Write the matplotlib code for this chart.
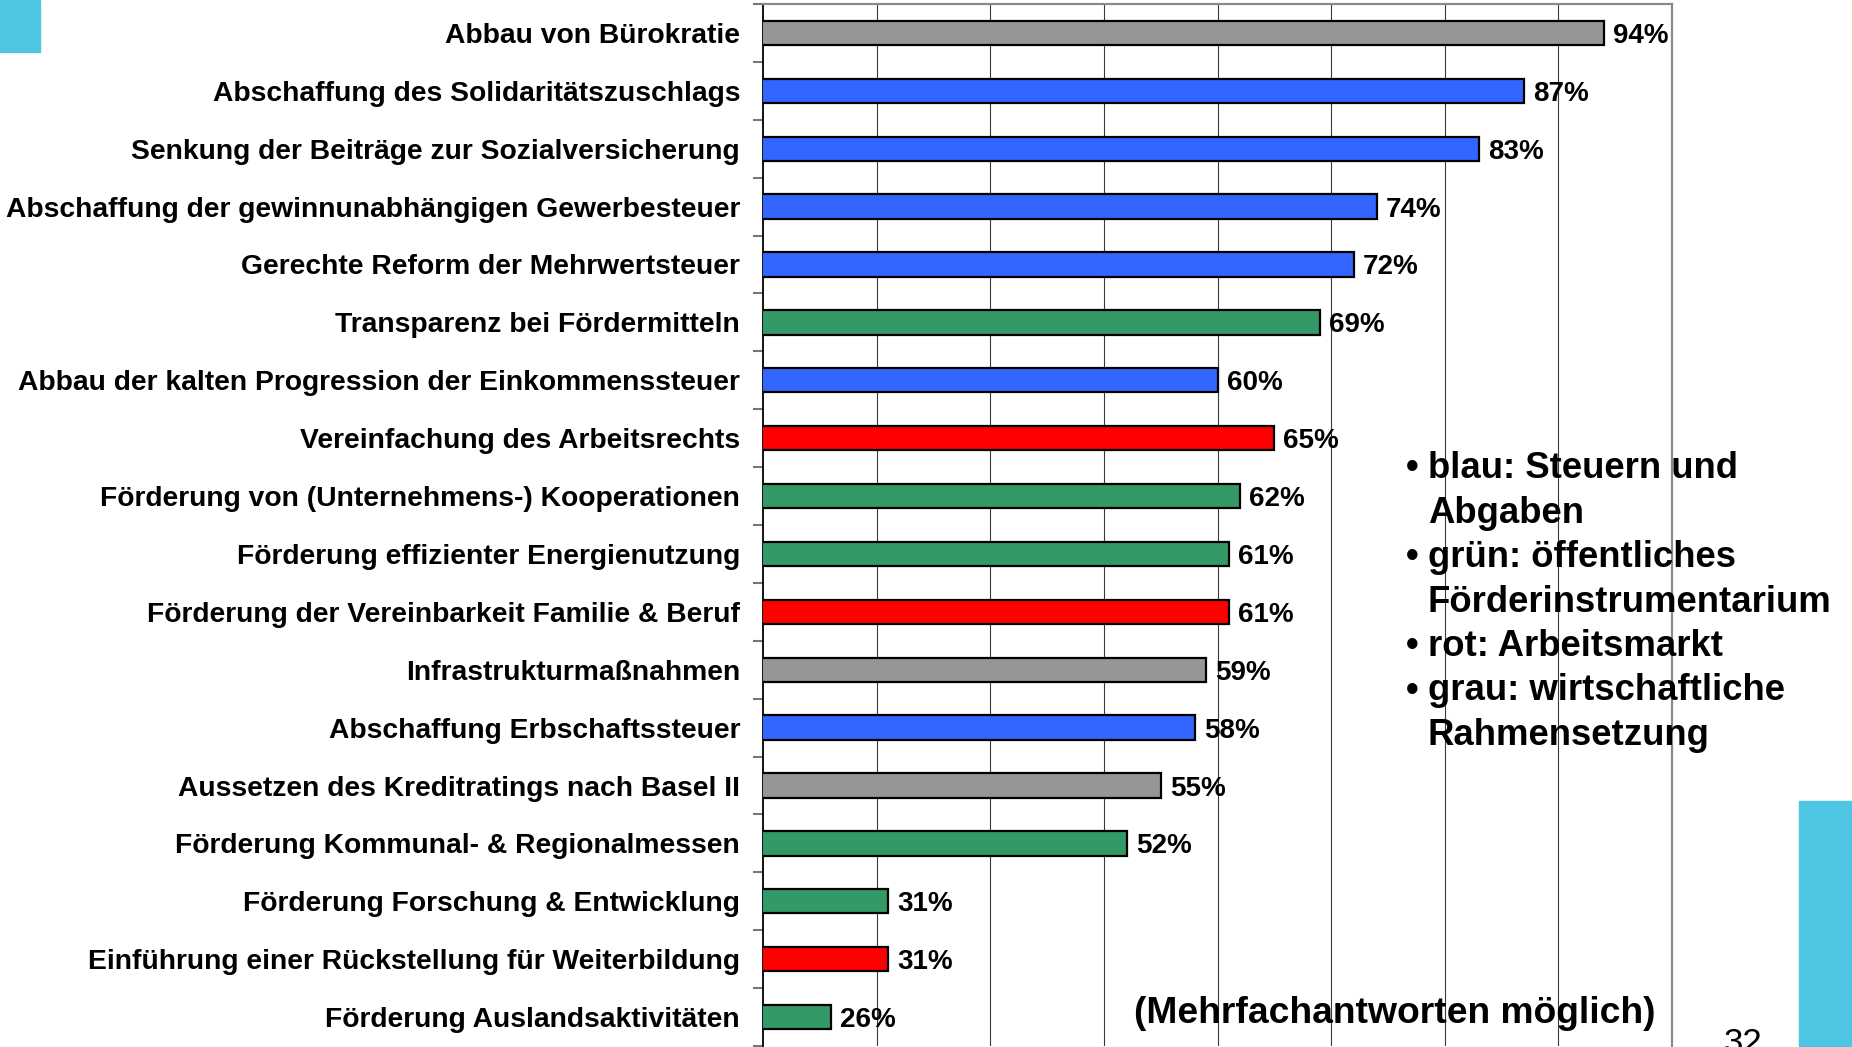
import matplotlib
matplotlib.use('Agg')
import matplotlib.pyplot as plt
import numpy as np

plt.rcParams['font.family'] = ['Liberation Sans', 'DejaVu Sans']

# survey answers, top to bottom as in the slide
categories = [
    "Abbau von Bürokratie",
    "Abschaffung des Solidaritätszuschlags",
    "Senkung der Beiträge zur Sozialversicherung",
    "Abschaffung der gewinnunabhängigen Gewerbesteuer",
    "Gerechte Reform der Mehrwertsteuer",
    "Transparenz bei Fördermitteln",
    "Abbau der kalten Progression der Einkommenssteuer",
    "Vereinfachung des Arbeitsrechts",
    "Förderung von (Unternehmens-) Kooperationen",
    "Förderung effizienter Energienutzung",
    "Förderung der Vereinbarkeit Familie & Beruf",
    "Infrastrukturmaßnahmen",
    "Abschaffung Erbschaftssteuer",
    "Aussetzen des Kreditratings nach Basel II",
    "Förderung Kommunal- & Regionalmessen",
    "Förderung Forschung & Entwicklung",
    "Einführung einer Rückstellung für Weiterbildung",
    "Förderung Auslandsaktivitäten",
]
values = [94, 87, 83, 74, 72, 69, 60, 65, 62, 61, 61, 59, 58, 55, 52, 31, 31, 26]
groups = ["grau", "blau", "blau", "blau", "blau", "grün", "blau", "rot", "grün",
          "grün", "rot", "grau", "blau", "grau", "grün", "grün", "rot", "grün"]

legend_lines = [
    ("blau: Steuern und", "Abgaben"),
    ("grün: öffentliches", "Förderinstrumentarium"),
    ("rot: Arbeitsmarkt", None),
    ("grau: wirtschaftliche", "Rahmensetzung"),
]
note = "(Mehrfachantworten möglich)"
page_no = "32"

group_colors = {"blau": "#3366FF", "grün": "#339966", "rot": "#FF0000", "grau": "#969696"}
CYAN = "#4FC5E4"

W, H = 1852, 1047


def fx(x):
    return x / W


def fy(y):
    return 1 - y / H


fig = plt.figure(figsize=(W / 100, H / 100), dpi=100)
ax = fig.add_axes([fx(763), fy(1046), fx(1672) - fx(763), fy(4) - fy(1046)])

y = np.arange(len(categories))
ax.barh(y, values, left=0, height=0.42,
        color=[group_colors[g] for g in groups],
        edgecolor='black', linewidth=1.6, zorder=3)

for yi, v in zip(y, values):
    ax.text(v + 0.8, yi, f"{v}%", va='center_baseline', ha='left',
            fontsize=20, fontweight='bold', zorder=4)

ax.set_xlim(20, 100)
ax.set_ylim(len(categories) - 0.5, -0.5)

ax.set_xticks(np.arange(30, 100, 10))
ax.tick_params(axis='x', length=0, labelbottom=False)
ax.grid(axis='x', color='#3a3a3a', linewidth=0.8, zorder=0)

ax.set_yticks(y)
ax.set_yticklabels(categories, fontsize=20.3, fontweight='bold')
ax.set_yticks(np.arange(len(categories) + 1) - 0.5, minor=True)
ax.tick_params(axis='y', which='major', length=0, pad=16.5)
ax.tick_params(axis='y', which='minor', length=7.5, width=1.5, color='#777777')

ax.spines['left'].set_color('black')
ax.spines['left'].set_linewidth(1.3)
ax.spines['bottom'].set_visible(False)
for side in ('top', 'right'):
    ax.spines[side].set_color('#8a8a8a')
    ax.spines[side].set_linewidth(1.6)

# bullet list explaining the colours
line_h = 44.5
base = 478
row = 0
for first, second in legend_lines:
    yb = base + row * line_h
    fig.text(fx(1406), fy(yb), "•", fontsize=26, fontweight='bold', va='baseline')
    fig.text(fx(1428), fy(yb), first, fontsize=26.3, fontweight='bold', va='baseline')
    row += 1
    if second:
        yb = base + row * line_h
        fig.text(fx(1428), fy(yb), second, fontsize=26.3, fontweight='bold', va='baseline')
        row += 1

fig.text(fx(1134), fy(1023), note, fontsize=26.8, fontweight='bold', va='baseline')
fig.text(fx(1724), fy(1027), page_no, fontsize=25, va='top')

# slide decoration
fig.patches.append(plt.Rectangle((0, fy(52)), fx(40), 1 - fy(52),
                                 transform=fig.transFigure, color=CYAN, zorder=5))
fig.patches.append(plt.Rectangle((fx(1799), 0), 1 - fx(1799), fy(801),
                                 transform=fig.transFigure, color=CYAN, zorder=5))

fig.savefig("out.png", dpi=100)
plt.close(fig)
